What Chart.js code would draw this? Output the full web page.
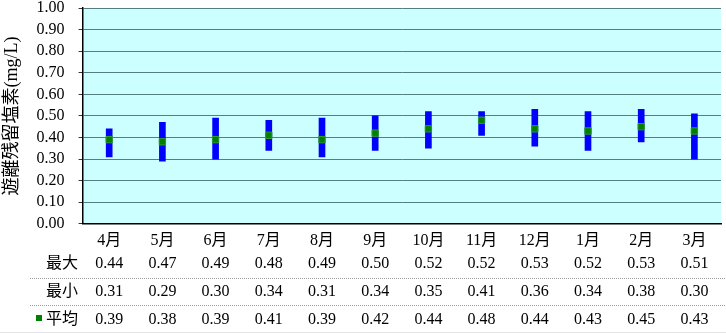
<!DOCTYPE html>
<html lang="ja">
<head>
  <meta charset="UTF-8" />
  <title>遊離残留塩素</title>
  <script src="https://cdn.jsdelivr.net/npm/chart.js"></script>
  <style>
    html, body {
      margin: 0;
      padding: 0;
      background: #ffffff;
    }
    .wrap {
      width: 726px;
      height: 333px;
    }
  </style>
</head>
<body>
  <div class="wrap"><canvas id="chlorineChart" width="726" height="333"></canvas></div>

  <script>
    const months = ['4月', '5月', '6月', '7月', '8月', '9月', '10月', '11月', '12月', '1月', '2月', '3月'];
    const maxValues = [0.44, 0.47, 0.49, 0.48, 0.49, 0.50, 0.52, 0.52, 0.53, 0.52, 0.53, 0.51];
    const minValues = [0.31, 0.29, 0.30, 0.34, 0.31, 0.34, 0.35, 0.41, 0.36, 0.34, 0.38, 0.30];
    const avgValues = [0.39, 0.38, 0.39, 0.41, 0.39, 0.42, 0.44, 0.48, 0.44, 0.43, 0.45, 0.43];
    const yTicks = [0, 0.1, 0.2, 0.3, 0.4, 0.5, 0.6, 0.7, 0.8, 0.9, 1.0];

    const FONT = '"Liberation Serif", "Noto Sans CJK JP", serif';

    // light cyan plot background
    const plotBg = {
      id: 'plotBg',
      beforeDraw(chart) {
        const { ctx, chartArea: a } = chart;
        ctx.save();
        ctx.fillStyle = '#ccffff';
        ctx.fillRect(a.left, a.top, a.right - a.left, a.bottom - a.top);
        ctx.restore();
      }
    };

    // data table under the month labels
    const dataTable = {
      id: 'dataTable',
      afterDraw(chart) {
        const { ctx } = chart;
        const x = chart.scales.x;
        const rows = [
          { label: '最大', values: maxValues, y: 264 },
          { label: '最小', values: minValues, y: 292 },
          { label: '平均', values: avgValues, y: 320, marker: true }
        ];
        ctx.save();
        ctx.font = '16px ' + FONT;
        ctx.fillStyle = '#000';
        ctx.textBaseline = 'middle';
        rows.forEach(r => {
          ctx.textAlign = 'right';
          ctx.fillText(r.label, 78, r.y);
          if (r.marker) {
            ctx.fillStyle = '#008000';
            ctx.fillRect(36, r.y - 5, 6, 6);
            ctx.fillStyle = '#000';
          }
          ctx.textAlign = 'center';
          r.values.forEach((v, i) => {
            ctx.fillText(v.toFixed(2), x.getPixelForValue(i), r.y);
          });
        });
        // row separators
        ctx.strokeStyle = '#9a9a9a';
        ctx.lineWidth = 1;
        ctx.setLineDash([1, 1]);
        [278.5, 305.5].forEach(y => {
          ctx.beginPath();
          ctx.moveTo(30, y);
          ctx.lineTo(726, y);
          ctx.stroke();
        });
        ctx.setLineDash([]);
        ctx.strokeStyle = '#e4e4e4';
        ctx.beginPath();
        ctx.moveTo(0, 332.5);
        ctx.lineTo(726, 332.5);
        ctx.stroke();
        ctx.restore();
      }
    };

    const ctx = document.getElementById('chlorineChart').getContext('2d');
    new Chart(ctx, {
      data: {
        labels: months,
        datasets: [
          {
            type: 'scatter',
            label: '平均',
            data: avgValues.map((v, i) => ({ x: i, y: v })),
            backgroundColor: '#008000',
            borderColor: '#2f9a2f',
            borderWidth: 1,
            pointStyle: 'rect',
            pointRadius: 4.5,
            order: 0
          },
          {
            type: 'bar',
            label: '範囲',
            data: minValues.map((v, i) => [v, maxValues[i]]),
            backgroundColor: '#0000ff',
            borderSkipped: false,
            barThickness: 6,
            order: 1
          }
        ]
      },
      options: {
        responsive: false,
        animation: false,
        layout: { autoPadding: false, padding: { top: 8, right: 5, bottom: 76, left: 1 } },
        plugins: {
          legend: { display: false },
          tooltip: { enabled: false }
        },
        scales: {
          x: {
            type: 'category',
            offset: true,
            grid: { display: false, drawTicks: false },
            border: { display: true, color: '#000', width: 1.5 },
            ticks: {
              color: '#000',
              padding: 7,
              autoSkip: false,
              maxRotation: 0,
              font: { family: FONT, size: 16 }
            }
          },
          y: {
            min: 0,
            max: 1,
            afterBuildTicks(axis) {
              axis.ticks = yTicks.map(v => ({ value: v }));
            },
            afterFit(axis) {
              axis.paddingTop = 0;
              axis.paddingBottom = 0;
            },
            grid: { color: '#557f7f', tickLength: 4, tickColor: '#333' },
            border: { display: true, color: '#000', width: 1.5 },
            ticks: {
              color: '#000',
              padding: 14,
              autoSkip: false,
              font: { family: FONT, size: 16 },
              callback: v => v.toFixed(2)
            },
            title: {
              display: true,
              text: '遊離残留塩素(mg/L)',
              color: '#000',
              padding: { top: 0, bottom: 0 },
              font: { family: FONT, size: 18 }
            }
          }
        }
      },
      plugins: [plotBg, dataTable]
    });
  </script>
</body>
</html>
